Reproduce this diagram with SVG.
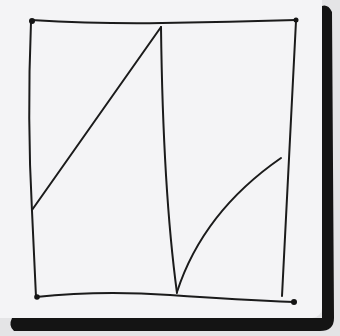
<svg xmlns="http://www.w3.org/2000/svg" width="340" height="336" viewBox="0 0 340 336">
<style>
.ink{fill:none;stroke:#1b1b1b;stroke-width:2;stroke-linecap:round;stroke-linejoin:round}
.dot{fill:#141414}
</style>
<rect width="340" height="336" fill="#e4e4e6"/>
<g id="card">
<path d="M322,6 Q328,4 332,12 L334,318 Q334,331 320,331 L14,331 Q8,326 12,318 L322,318 Z" fill="#141414"/>
<rect x="-10" y="-10" width="332" height="328" rx="10" fill="#f4f4f6"/>
</g>
<g id="sketch">
<path class="ink" d="M31,22 Q27,120 32,211 L36,297"/>
<path class="ink" d="M31,20 Q100,24 162,23 Q230,22 296,20"/>
<path class="ink" d="M296,21 Q289,160 282,296"/>
<path class="ink" d="M36,297 Q100,290 170,295 Q240,300 294,302"/>
<path class="ink" d="M32,210 L161,27"/>
<path class="ink" d="M161,27 Q163,190 177,293"/>
<path class="ink" d="M177,292 Q203,212 281,158"/>
<circle class="dot" cx="32" cy="21" r="3"/>
<circle class="dot" cx="296" cy="20" r="2.5"/>
<circle class="dot" cx="37" cy="297" r="2.8"/>
<circle class="dot" cx="294" cy="302" r="3"/>
</g>
</svg>
